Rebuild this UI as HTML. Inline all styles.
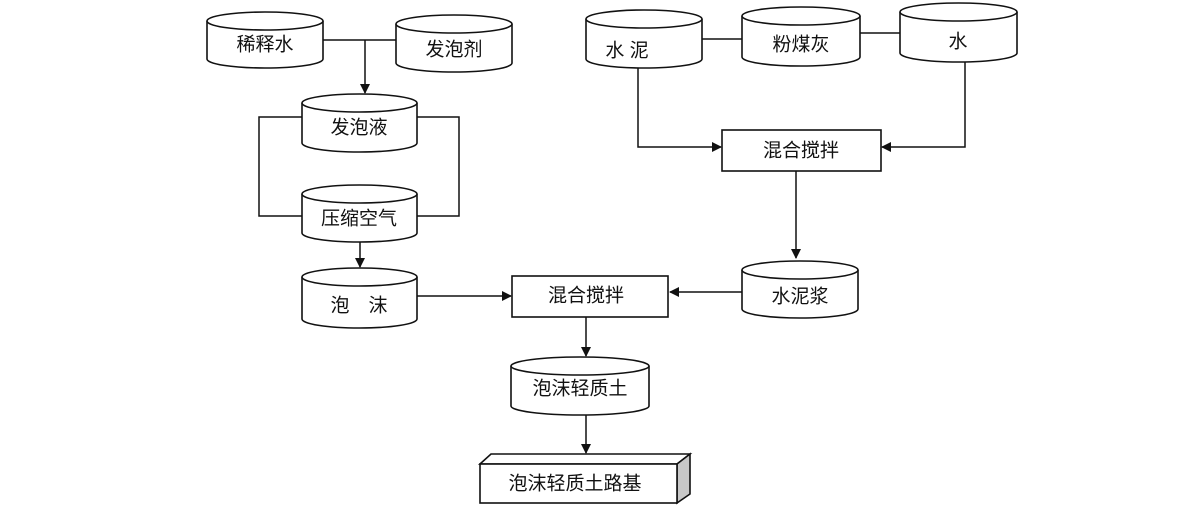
<!DOCTYPE html>
<html><head><meta charset="utf-8"><style>
html,body{margin:0;padding:0;background:#fff;}
svg{display:block}
text{font-family:"Liberation Sans","Noto Sans CJK SC",sans-serif;font-size:19px;fill:#111;text-anchor:middle;dominant-baseline:central}
.s{fill:#fff;stroke:#111;stroke-width:1.6}
.l{fill:none;stroke:#111;stroke-width:1.5}
</style></head><body>
<svg width="1191" height="505" viewBox="0 0 1191 505">
<defs><marker id="a" markerWidth="10" markerHeight="10" refX="9" refY="5" orient="auto" markerUnits="userSpaceOnUse"><path d="M0,0 L10,5 L0,10 z" fill="#111"/></marker></defs>
<!-- connectors -->
<path class="l" d="M323,40 H396" stroke-width="2.5"/>
<path class="l" d="M365,40 V93" marker-end="url(#a)"/>
<path class="l" d="M302,117 H259 V216 H302 M417,117 H459 V216 H417"/>
<path class="l" d="M360,242 V267" marker-end="url(#a)"/>
<path class="l" d="M417,296 H511" marker-end="url(#a)"/>
<path class="l" d="M742,292 H670" marker-end="url(#a)"/>
<path class="l" d="M586,317 V356" marker-end="url(#a)"/>
<path class="l" d="M586,415 V453" marker-end="url(#a)"/>
<path class="l" d="M702,39 H742 M860,33 H900"/>
<path class="l" d="M638,68 V147 H721" marker-end="url(#a)"/>
<path class="l" d="M965,62 V147 H882" marker-end="url(#a)"/>
<path class="l" d="M796,171 V258" marker-end="url(#a)"/>
<!-- cylinders -->
<g id="cyls">
<path class="s" d="M207,21 V59 A58,9 0 0 0 323,59 V21"/><ellipse class="s" cx="265" cy="21" rx="58" ry="9"/><text x="265" y="45">稀释水</text>
<path class="s" d="M396,24 V63 A58,9 0 0 0 512,63 V24"/><ellipse class="s" cx="454" cy="24" rx="58" ry="9"/><text x="454" y="50">发泡剂</text>
<path class="s" d="M302,103 V143 A57.5,9 0 0 0 417,143 V103"/><ellipse class="s" cx="359.5" cy="103" rx="57.5" ry="9"/><text x="359" y="128">发泡液</text>
<path class="s" d="M302,194 V233 A57.5,9 0 0 0 417,233 V194"/><ellipse class="s" cx="359.5" cy="194" rx="57.5" ry="9"/><text x="359" y="219">压缩空气</text>
<path class="s" d="M302,277 V319 A57.5,9 0 0 0 417,319 V277"/><ellipse class="s" cx="359.5" cy="277" rx="57.5" ry="9"/><text x="359" y="306">泡　沫</text>
<path class="s" d="M742,270 V309 A58,9 0 0 0 858,309 V270"/><ellipse class="s" cx="800" cy="270" rx="58" ry="9"/><text x="800" y="297">水泥浆</text>
<path class="s" d="M511,366 V406 A69,9 0 0 0 649,406 V366"/><ellipse class="s" cx="580" cy="366" rx="69" ry="9"/><text x="580" y="389">泡沫轻质土</text>
<path class="s" d="M586,19 V59 A58,9 0 0 0 702,59 V19"/><ellipse class="s" cx="644" cy="19" rx="58" ry="9"/><text x="627" y="51">水  泥</text>
<path class="s" d="M742,16 V57 A59,9 0 0 0 860,57 V16"/><ellipse class="s" cx="801" cy="16" rx="59" ry="9"/><text x="801" y="45">粉煤灰</text>
<path class="s" d="M900,12 V53 A58.5,9 0 0 0 1017,53 V12"/><ellipse class="s" cx="958.5" cy="12" rx="58.5" ry="9"/><text x="958" y="42">水</text>
</g>
<!-- boxes -->
<rect class="s" x="722" y="130" width="159" height="41"/><text x="801" y="151">混合搅拌</text>
<rect class="s" x="512" y="276" width="156" height="41"/><text x="586" y="296">混合搅拌</text>
<path class="s" d="M480,464 L491,454 H690 L677,464 Z"/>
<path d="M677,464 L690,454 V494 L677,503 Z" fill="#c8c8c8" stroke="#111" stroke-width="1.6"/>
<rect class="s" x="480" y="464" width="197" height="39"/><text x="575" y="484">泡沫轻质土路基</text>
</svg>
</body></html>
